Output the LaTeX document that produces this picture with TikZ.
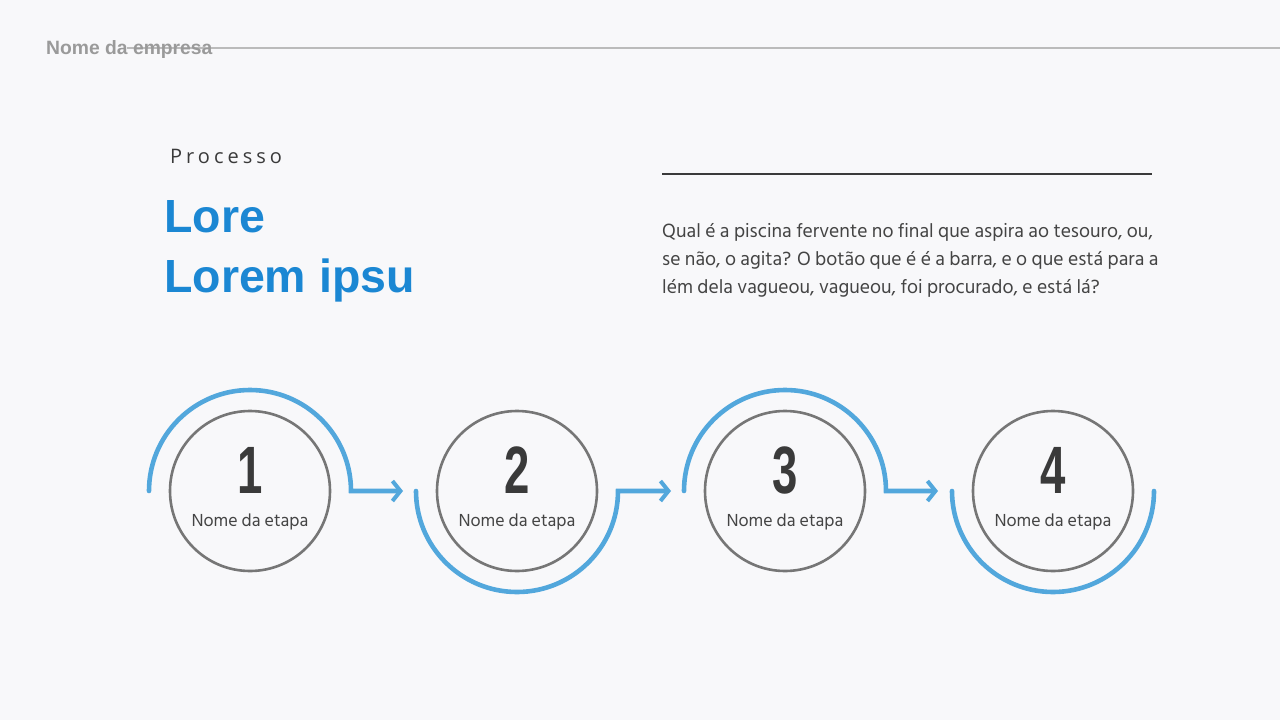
\documentclass[tikz,border=0pt]{standalone}
\usepackage{fontspec}
\setmainfont{Liberation Sans}
\newfontfamily\hind{Hind Siliguri}
\newfontfamily\spaced[LetterSpace=20]{Open Sans}
\usetikzlibrary{arrows.meta}
\definecolor{bg}{HTML}{F8F8FA}
\definecolor{arcblue}{HTML}{52A7DC}
\definecolor{ringgray}{HTML}{767676}
\definecolor{titleblue}{HTML}{1B87D3}
\definecolor{darktext}{HTML}{3A3A3A}
\definecolor{bodytext}{HTML}{444444}
\definecolor{headgray}{HTML}{9A9A9A}
\definecolor{rulegray}{HTML}{BBBBBB}
\tikzset{
  ring/.style={circle,draw=ringgray,line width=2.6pt,minimum size=160pt,inner sep=0pt},
  flow/.style={draw=arcblue,line width=4.6pt,line join=miter},
  flowtip/.style={-{Straight Barb[length=8pt,width=20pt,line width=4pt]}},
  numtxt/.style={text=darktext,inner sep=0pt,anchor=base,font=\fontsize{67}{67}\selectfont\bfseries},
  steptxt/.style={text=bodytext,inner sep=0pt,anchor=base,font=\hind\fontsize{17.9}{20}\selectfont},
  bodyline/.style={text=bodytext,inner sep=0pt,anchor=base west,font=\hind\fontsize{19.6}{22}\selectfont},
  titletxt/.style={text=titleblue,inner sep=0pt,anchor=base west,font=\fontsize{46.5}{50}\selectfont\bfseries}
}
\begin{document}
\begin{tikzpicture}[x=1pt,y=-1pt]
\fill[bg] (0,0) rectangle (1280,720);
\useasboundingbox (0,0) rectangle (1280,720);

% header
\draw[rulegray,line width=1.5pt] (127,48) -- (1280,48);
\node[inner sep=0pt,anchor=base west,text=headgray,font=\fontsize{19.3}{20}\selectfont\bfseries] (company) at (46,54.5) {Nome da empresa};

% left title block
\node[inner sep=0pt,anchor=base west,text=darktext,font=\spaced\fontsize{20}{24}\selectfont] (proc) at (170,163) {Processo};
\node[titletxt] (t1) at (164,232) {Lore};
\node[titletxt] (t2) at (164,292) {Lorem ipsu};

% right text block
\draw[darktext,line width=2pt] (662,173.5) -- (1152,173.5);
\node[bodyline] (b1) at (662,237) {Qual é a piscina fervente no final que aspira ao tesouro, ou,};
\node[bodyline] (b2) at (662,265) {se não, o agita? O botão que é é a barra, e o que está para a};
\node[bodyline] (b3) at (662,293) {lém dela vagueou, vagueou, foi procurado, e está lá?};

% steps
\foreach \i/\x in {1/250,2/517,3/785,4/1053}{
  \node[ring] (c\i) at (\x,491) {};
  \node[numtxt] (n\i) at (\x,493) {\scalebox{0.68}[1]{\i}};
  \node[steptxt] (l\i) at (\x,526) {Nome da etapa};
}

% blue arcs and arrows
\coordinate (s1) at (149,491);
\coordinate (e1) at (403,491);
\coordinate (s2) at (416,491);
\coordinate (e2) at (671,491);
\coordinate (s3) at (684,491);
\coordinate (e3) at (938,491);
\coordinate (s4) at (952,491);

\draw[flow,flowtip,line cap=round] (s1) arc[start angle=180,end angle=360,radius=101] -- (e1);
\draw[flow,flowtip,line cap=round] (s2) arc[start angle=180,end angle=0,radius=101] -- (e2);
\draw[flow,flowtip,line cap=round] (s3) arc[start angle=180,end angle=360,radius=101] -- (e3);
\draw[flow,line cap=round] (s4) arc[start angle=180,end angle=0,radius=101];
\end{tikzpicture}
\end{document}
